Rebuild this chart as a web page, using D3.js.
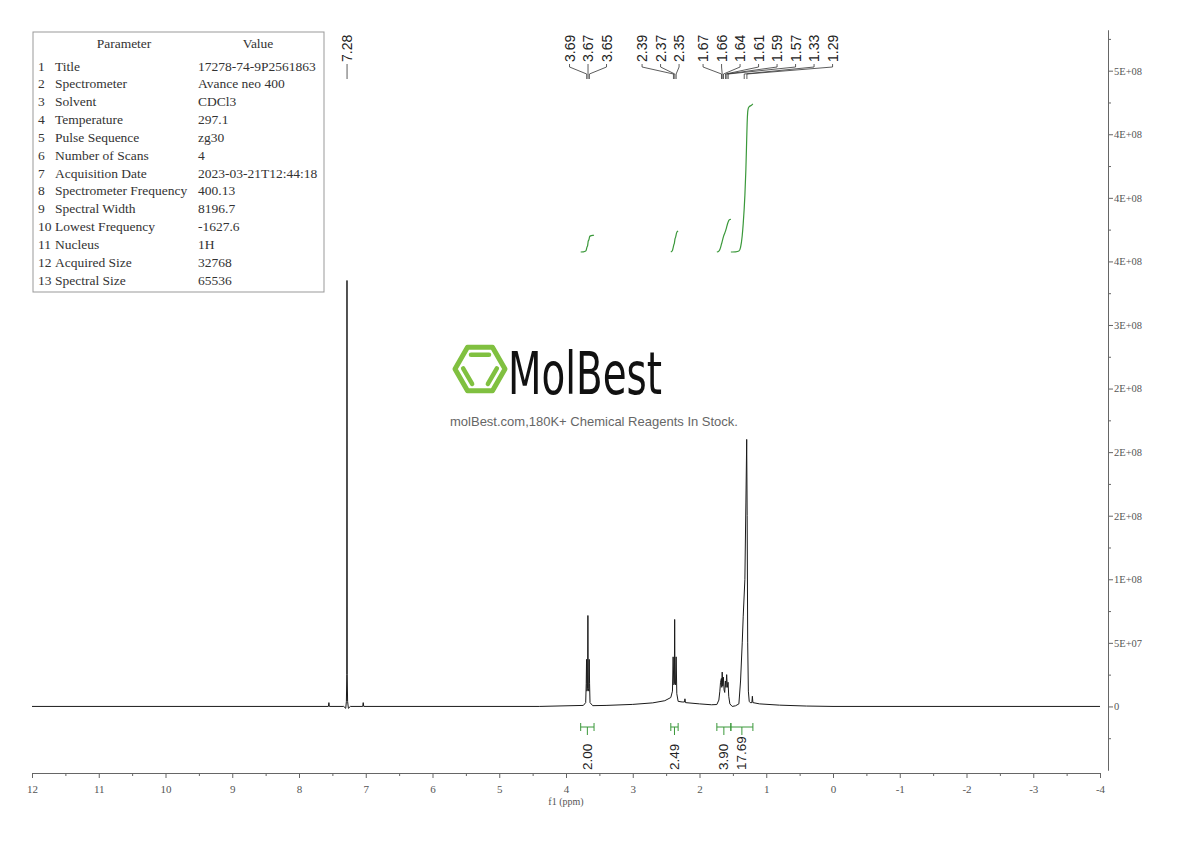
<!DOCTYPE html>
<html>
<head>
<meta charset="utf-8">
<script src="https://cdn.jsdelivr.net/npm/d3@7"></script>
<style>
  body { margin: 0; background: #fff; }
  .axis path, .axis line { stroke: #666; }
  .axis text { font-family: "Liberation Serif", serif; fill: #555; }
</style>
</head>
<body>
<svg id="chart"></svg>
<script>
var width = 1190, height = 841;

// spectrum: shift in ppm, intensity
var shiftPpm = [12.00, 8.00, 7.56, 7.552, 7.545, 7.33, 7.30, 7.29, 7.284, 7.281, 7.278, 7.272, 7.26, 7.23,
  7.045, 7.038, 7.03, 4.40, 3.74, 3.705, 3.697, 3.692, 3.687, 3.677, 3.672, 3.667, 3.657, 3.652, 3.647,
  3.64, 3.60, 3.40, 3.00, 2.70, 2.52, 2.43, 2.405, 2.395, 2.385, 2.377, 2.372, 2.367, 2.359, 2.35, 2.34,
  2.32, 2.26, 2.225, 2.218, 2.21, 2.00, 1.82, 1.74, 1.71, 1.695, 1.685, 1.672, 1.666, 1.66, 1.652, 1.642,
  1.632, 1.622, 1.612, 1.603, 1.593, 1.583, 1.572, 1.562, 1.545, 1.51, 1.46, 1.41, 1.385, 1.36, 1.345,
  1.32, 1.305, 1.293, 1.286, 1.278, 1.268, 1.255, 1.24, 1.215, 1.208, 1.20, 1.10, 0.80, 0.40, 0.00, -4.00];
var intensity = [0, 0, 0, 3.0e6, 0, 0, -1.5e6, 4e6, 2.5e7, 3.35e8, 2.5e7, 4e6, -1.5e6, 0,
  0, 3.0e6, 0, 0, 0.8e6, 3e6, 1.8e7, 3.7e7, 1.2e7, 1.4e7, 7.15e7, 1.4e7, 1.2e7, 3.7e7, 1.8e7,
  3e6, 0.6e6, 0.8e6, 1.6e6, 2.8e6, 4.5e6, 7e6, 1.2e7, 3.9e7, 1.7e7, 1.8e7, 6.84e7, 1.8e7, 1.7e7, 3.9e7, 1.0e7,
  4e6, 3.5e6, 3.5e6, 6e6, 3e6, 2e6, 1.3e6, 1.5e6, 5e6, 1.2e7, 1.9e7, 2.2e7, 1.5e7, 2.7e7, 1.6e7, 2.3e7,
  1.3e7, 1.1e7, 2.0e7, 1.5e7, 2.5e7, 1.5e7, 1.9e7, 8e6, 2e6, 0, 0.5e6, 2e6, 2.0e7, 5e7, 7.1e7,
  1.0e8, 1.6e8, 2.1e8, 1.5e8, 5e7, 1.2e7, 4e6, 3e6, 3e6, 8e6, 3e6, 2e6, 1e6, 0.3e6, 0, 0];

// picked peaks, grouped as labelled
var peakGroups = [[7.28], [3.69, 3.67, 3.65], [2.39, 2.37, 2.35],
  [1.67, 1.66, 1.64, 1.61, 1.59, 1.57, 1.33, 1.29]];

// integral regions
var integralFrom = [3.78, 2.43, 1.74, 1.53];
var integralTo = [3.58, 2.32, 1.53, 1.20];
var integralValues = [2.00, 2.49, 3.90, 17.69];

var xTicks = [12, 11, 10, 9, 8, 7, 6, 5, 4, 3, 2, 1, 0, -1, -2, -3, -4];
var yTickValues = [0, 5e7, 1e8, 1.5e8, 2e8, 2.5e8, 3e8, 3.5e8, 4e8, 4.5e8, 5e8];
var yTickLabels = ["0", "5E+07", "1E+08", "2E+08", "2E+08", "2E+08", "3E+08", "4E+08", "4E+08", "4E+08", "5E+08"];

var paramNames = ["Title", "Spectrometer", "Solvent", "Temperature", "Pulse Sequence", "Number of Scans",
  "Acquisition Date", "Spectrometer Frequency", "Spectral Width", "Lowest Frequency", "Nucleus",
  "Acquired Size", "Spectral Size"];
var paramValues = ["17278-74-9P2561863", "Avance neo 400", "CDCl3", "297.1", "zg30", "4",
  "2023-03-21T12:44:18", "400.13", "8196.7", "-1627.6", "1H", "32768", "65536"];

var svg = d3.select("#chart")
    .attr("width", width)
    .attr("height", height)
    .style("background", "#fff");

var x = d3.scaleLinear().domain([12, -4]).range([32, 1100]);
var y = d3.scaleLinear().domain([-5e7, 5.32e8]).range([770, 30]);
var yInt = d3.scaleLinear().domain([0, d3.max(integralValues)]).range([252, 104]);

var axisY = 773;

// x axis, major + minor ticks
svg.append("g")
    .attr("class", "axis")
    .attr("transform", `translate(0,${axisY})`)
    .call(d3.axisBottom(x).tickValues(xTicks).tickSize(5).tickSizeOuter(0).tickPadding(7)
        .tickFormat(function(d) { return String(d); }))
    .selectAll("text").style("font-size", "11px");

svg.append("g")
    .attr("class", "axis")
    .attr("transform", `translate(0,${axisY})`)
    .call(d3.axisBottom(x).tickValues(xTicks.slice(1).map(function(d) { return d + 0.5; }))
        .tickSize(3).tickSizeOuter(0).tickFormat(""));

svg.append("text")
    .attr("x", x(4))
    .attr("y", 805)
    .attr("text-anchor", "middle")
    .style("font-family", "Liberation Serif, serif")
    .style("font-size", "10px")
    .style("fill", "#555")
    .text("f1 (ppm)");

// right intensity axis
svg.append("g")
    .attr("class", "axis")
    .attr("transform", "translate(1108,0)")
    .call(d3.axisRight(y).tickValues(yTickValues).tickSize(5).tickSizeOuter(0).tickPadding(1)
        .tickFormat(function(d, i) { return yTickLabels[i]; }))
    .selectAll("text").style("font-size", "10.5px");

svg.append("g")
    .attr("class", "axis")
    .attr("transform", "translate(1108,0)")
    .call(d3.axisRight(y).tickValues(yTickValues.map(function(d) { return d + 2.5e7; }).concat([-2.5e7]))
        .tickSize(3).tickSizeOuter(0).tickFormat(""));

// spectrum
var spectrum = d3.zip(shiftPpm, intensity);

svg.append("path")
    .datum(spectrum)
    .attr("fill", "none")
    .attr("stroke", "#1a1a1a")
    .attr("stroke-width", 1)
    .attr("d", d3.line()
        .x(function(d) { return x(d[0]); })
        .y(function(d) { return y(d[1]); }));

// integrals: running sum of the spectrum over each region
var green = "#3a983a";
var intLine = d3.line()
    .x(function(d) { return x(d[0]); })
    .y(function(d) { return yInt(d[1]); })
    .curve(d3.curveMonotoneX);

integralValues.forEach(function(v, i) {
    var hi = integralFrom[i], lo = integralTo[i];
    var pts = [[hi, 0]].concat(spectrum.filter(function(d) { return d[0] < hi && d[0] > lo; }), [[lo, 0]]);
    var cum = [0];
    for (var j = 1; j < pts.length; j++) {
        cum.push(cum[j - 1] + (pts[j - 1][0] - pts[j][0]) * (pts[j - 1][1] + pts[j][1]) / 2);
    }
    var total = cum[cum.length - 1];
    var curve = pts.map(function(p, j) { return [p[0], v * cum[j] / total]; });

    svg.append("path")
        .datum(curve)
        .attr("fill", "none")
        .attr("stroke", green)
        .attr("stroke-width", 1.2)
        .attr("d", intLine);

    var x1 = x(hi), x2 = x(lo), cx = (x1 + x2) / 2;
    svg.append("path")
        .attr("fill", "none")
        .attr("stroke", green)
        .attr("stroke-width", 1)
        .attr("d", `M${x1},723V731M${x1},727H${x2}M${x2},723V731M${cx},727V735`);

    svg.append("text")
        .attr("transform", `translate(${cx},770) rotate(-90)`)
        .attr("dominant-baseline", "central")
        .style("font-family", "Liberation Sans, Arial, sans-serif")
        .style("font-size", "13.5px")
        .style("fill", "#222")
        .text(v.toFixed(2));
});

// peak labels: groups centred on their peaks, pushed apart where they collide
var labelGap = 18.5, groupGap = 24;
var groups = peakGroups.map(function(g) {
    return {ppm: g, center: d3.mean(g, function(p) { return x(p); })};
});
function halfSpan(g) { return (g.ppm.length - 1) * labelGap / 2; }
for (var k = 0; k < groups.length - 1; k++) {
    var a = groups[k], b = groups[k + 1];
    var overlap = a.center + halfSpan(a) + groupGap - (b.center - halfSpan(b));
    if (overlap > 0) {
        var n = a.ppm.length + b.ppm.length;
        a.center -= overlap * a.ppm.length / n;
        b.center += overlap * b.ppm.length / n;
    }
}

groups.forEach(function(g) {
    var n = g.ppm.length;
    g.ppm.forEach(function(p, i) {
        var lx = g.center + (i - (n - 1) / 2) * labelGap;
        var px = x(p);
        svg.append("text")
            .attr("transform", `translate(${lx},62) rotate(-90)`)
            .attr("dominant-baseline", "central")
            .style("font-family", "Liberation Sans, Arial, sans-serif")
            .style("font-size", "14px")
            .style("fill", "#222")
            .text(p.toFixed(2));
        svg.append("path")
            .attr("fill", "none")
            .attr("stroke", "#333")
            .attr("stroke-width", 0.8)
            .attr("d", `M${lx},64V67L${px},74V79`);
    });
});

// parameter table
var table = svg.append("g");
table.append("rect")
    .attr("x", 33).attr("y", 32)
    .attr("width", 291).attr("height", 260)
    .attr("fill", "#fff")
    .attr("stroke", "#999");

var tfont = function(sel) {
    return sel.style("font-family", "Liberation Serif, serif")
        .style("font-size", "13.5px")
        .style("fill", "#333")
        .attr("dominant-baseline", "central");
};
tfont(table.append("text").attr("x", 124).attr("y", 43).attr("text-anchor", "middle").text("Parameter"));
tfont(table.append("text").attr("x", 258).attr("y", 43).attr("text-anchor", "middle").text("Value"));

var rowY = d3.scaleLinear().domain([0, 12]).range([66, 280]);
paramNames.forEach(function(name, i) {
    tfont(table.append("text").attr("x", 38).attr("y", rowY(i)).text(i + 1));
    tfont(table.append("text").attr("x", 55).attr("y", rowY(i)).text(name));
    tfont(table.append("text").attr("x", 198).attr("y", rowY(i)).text(paramValues[i]));
});

// watermark
var logo = svg.append("g");
var hx = 480, hy = 369, R = 25;
var hexPts = d3.range(6).map(function(k) {
    var a = Math.PI / 3 * k;
    return [hx + R * Math.cos(a), hy + R * Math.sin(a)];
});
logo.append("polygon")
    .attr("points", hexPts.map(function(p) { return p.join(","); }).join(" "))
    .attr("fill", "none")
    .attr("stroke", "#80c040")
    .attr("stroke-width", 5)
    .attr("stroke-linejoin", "round");
// three inner bonds: top, lower-left, lower-right edges
[[4, 5], [2, 3], [0, 1]].forEach(function(e) {
    var p = hexPts[e[0]], q = hexPts[e[1]];
    var mx = (p[0] + q[0]) / 2, my = (p[1] + q[1]) / 2;
    var cx = hx + (mx - hx) * 0.66, cy = hy + (my - hy) * 0.66;
    var dx = (q[0] - p[0]) * 0.36, dy = (q[1] - p[1]) * 0.36;
    logo.append("line")
        .attr("x1", cx - dx).attr("y1", cy - dy)
        .attr("x2", cx + dx).attr("y2", cy + dy)
        .attr("stroke", "#80c040")
        .attr("stroke-width", 4.5)
        .attr("stroke-linecap", "round");
});
logo.append("text")
    .attr("x", 508).attr("y", 394)
    .attr("textLength", 154)
    .attr("lengthAdjust", "spacingAndGlyphs")
    .style("font-family", "DejaVu Sans Condensed, sans-serif")
    .style("font-size", "58px")
    .style("fill", "#111")
    .text("MolBest");
logo.append("text")
    .attr("x", 594).attr("y", 426)
    .attr("text-anchor", "middle")
    .style("font-family", "Liberation Sans, Arial, sans-serif")
    .style("font-size", "13px")
    .style("fill", "#666")
    .text("molBest.com,180K+ Chemical Reagents In Stock.");
</script>
</body>
</html>
